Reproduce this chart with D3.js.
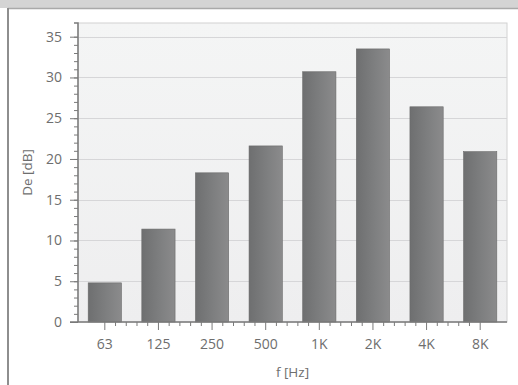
<!DOCTYPE html>
<html>
<head>
<meta charset="utf-8">
<script src="https://cdn.jsdelivr.net/npm/d3@7"></script>
<style>
  body { margin: 0; background: #fff; }
  text { font-family: "Open Sans", sans-serif; fill: #6e6e6e; }
</style>
</head>
<body>
<svg></svg>
<script>
var width = 518;
var height = 385;

var freqs = ["63", "125", "250", "500", "1K", "2K", "4K", "8K"];
var deValues = [4.8, 11.4, 18.3, 21.6, 30.7, 33.5, 26.4, 20.9];
var yTicks = [0, 5, 10, 15, 20, 25, 30, 35];

var margin = {left: 78, right: 11, top: 23, bottom: 63};

var svg = d3.select("svg")
    .attr("width", width)
    .attr("height", height);

// frame of the window
svg.append("rect").attr("x", 0).attr("y", 0).attr("width", width).attr("height", 8).attr("fill", "#d4d4d4");
svg.append("line").attr("x1", 8).attr("x2", width).attr("y1", 8.5).attr("y2", 8.5).attr("stroke", "#a9a9a9").attr("stroke-width", 1.5);
svg.append("line").attr("x1", 8).attr("x2", 8).attr("y1", 8).attr("y2", height).attr("stroke", "#8e8e8e").attr("stroke-width", 2);

var x = d3.scaleBand()
    .domain(freqs)
    .range([margin.left, width - margin.right])
    .paddingInner(0.38)
    .paddingOuter(0.19);

var y = d3.scaleLinear()
    .domain([0, 35])
    .range([height - margin.bottom, 36.7]);

var defs = svg.append("defs");
var bg = defs.append("linearGradient").attr("id", "bg").attr("x1", 0).attr("x2", 0).attr("y1", 0).attr("y2", 1);
bg.append("stop").attr("offset", "0%").attr("stop-color", "#f4f5f5");
bg.append("stop").attr("offset", "100%").attr("stop-color", "#eeeeef");

var barGrad = defs.append("linearGradient").attr("id", "bar").attr("x1", 0).attr("x2", 1).attr("y1", 0).attr("y2", 0);
barGrad.append("stop").attr("offset", "0%").attr("stop-color", "#6e6f70");
barGrad.append("stop").attr("offset", "55%").attr("stop-color", "#7e7f80");
barGrad.append("stop").attr("offset", "100%").attr("stop-color", "#8b8b8c");

// plot background
svg.append("rect")
    .attr("x", margin.left)
    .attr("y", margin.top)
    .attr("width", width - margin.right - margin.left)
    .attr("height", height - margin.bottom - margin.top)
    .attr("fill", "url(#bg)")
    .attr("stroke", "#d2d2d2");

// grid lines
svg.append("g")
    .selectAll("line")
    .data(yTicks.filter(d => d > 0))
    .enter()
    .append("line")
        .attr("x1", margin.left)
        .attr("x2", width - margin.right)
        .attr("y1", d => Math.round(y(d)) + 0.5)
        .attr("y2", d => Math.round(y(d)) + 0.5)
        .attr("stroke", "#d6d6d8");

// bars
svg.append("g")
    .selectAll("rect")
    .data(deValues)
    .enter()
    .append("rect")
        .attr("x", (d, i) => x(freqs[i]))
        .attr("y", d => y(d))
        .attr("width", x.bandwidth())
        .attr("height", d => y(0) - y(d))
        .attr("fill", "url(#bar)")
        .attr("stroke", "#6a6a6a")
        .attr("stroke-width", 0.6);

// y axis with minor ticks
var yAxis = svg.append("g")
    .attr("transform", `translate(${margin.left},0)`);
yAxis.call(d3.axisLeft(y).tickValues(d3.range(0, 36, 1)).tickSize(4).tickFormat(""));
yAxis.call(g => g.selectAll(".tick line").attr("stroke", "#7a7a7a"));
var yMajor = svg.append("g")
    .attr("transform", `translate(${margin.left},0)`)
    .call(d3.axisLeft(y).tickValues(yTicks).tickSize(8).tickPadding(8));
yMajor.select(".domain").remove();
yMajor.selectAll(".tick line").attr("stroke", "#7a7a7a");
yMajor.selectAll(".tick text").style("font-size", "14px").attr("fill", "#6e6e6e");
yAxis.select(".domain").attr("stroke", "#7a7a7a").attr("stroke-width", 1.5)
    .attr("d", `M-4,${margin.top}H0V${y(0)}`);

// x axis
var step = x.step();
var minorX = [];
freqs.forEach((f, i) => {
    if (i < freqs.length - 1) {
        for (var k = 1; k < 5; k++) minorX.push(x(f) + x.bandwidth() / 2 + step * k / 5);
    }
});
svg.append("g")
    .selectAll("line")
    .data(minorX)
    .enter()
    .append("line")
        .attr("x1", d => d).attr("x2", d => d)
        .attr("y1", y(0)).attr("y2", y(0) + 4)
        .attr("stroke", "#7a7a7a");

var xAxis = svg.append("g")
    .attr("transform", `translate(0,${y(0)})`)
    .call(d3.axisBottom(x).tickSize(8).tickPadding(9));
xAxis.select(".domain").attr("stroke", "#7a7a7a").attr("stroke-width", 1.5)
    .attr("d", `M${margin.left - 8},0H${width - margin.right}`);
xAxis.selectAll(".tick line").attr("stroke", "#7a7a7a");
xAxis.selectAll(".tick text").style("font-size", "14px").attr("fill", "#6e6e6e");

// axis titles
svg.append("text")
    .attr("x", (margin.left + width - margin.right) / 2)
    .attr("y", 377)
    .style("font-size", "13.5px")
    .style("text-anchor", "middle")
    .text("f [Hz]");

svg.append("text")
    .attr("transform", `translate(32,${(margin.top + y(0)) / 2}) rotate(-90)`)
    .style("font-size", "13.5px")
    .style("text-anchor", "middle")
    .text("De [dB]");
</script>
</body>
</html>
